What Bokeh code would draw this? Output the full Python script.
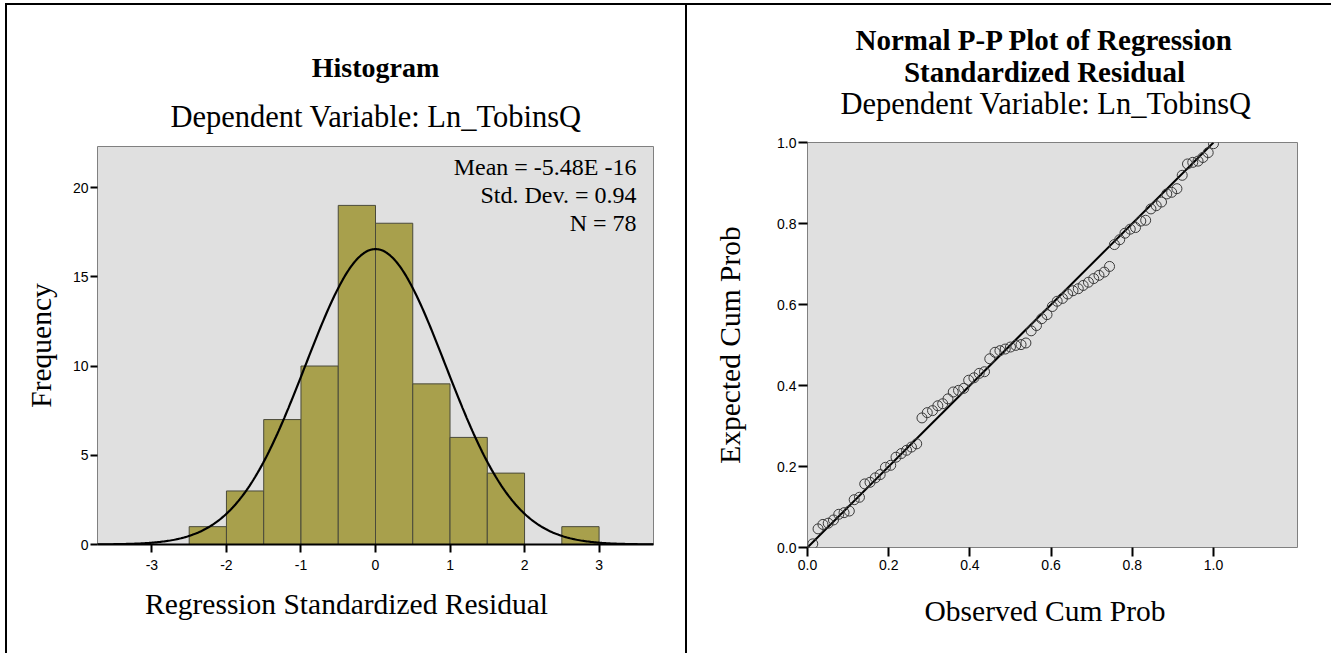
import numpy as np
from bokeh.plotting import figure
from bokeh.models import Range1d, FixedTicker, Label, PrintfTickFormatter, Spacer
from bokeh.layouts import row, column
from bokeh.core.properties import value
from bokeh.embed import file_html
from bokeh.resources import INLINE

# ---------------- data: histogram ----------------
bin_lefts = [-2.5, -2.0, -1.5, -1.0, -0.5, 0.0, 0.5, 1.0, 1.5, 2.0, 2.5]
bin_width = 0.5
frequencies = [1, 3, 7, 10, 19, 18, 9, 6, 4, 0, 1]
hist_xticks = [-3, -2, -1, 0, 1, 2, 3]
hist_yticks = [0, 5, 10, 15, 20]
stat_mean = -5.48e-16
stat_sd = 0.94
stat_n = 78
stat_lines = ["Mean = -5.48E -16", "Std. Dev. = 0.94", "N = 78"]

# ---------------- data: P-P plot ----------------
observed_cum_prob = [
    0.013, 0.026, 0.038, 0.051, 0.064, 0.077, 0.090, 0.103, 0.115, 0.128,
    0.141, 0.154, 0.167, 0.179, 0.192, 0.205, 0.218, 0.231, 0.244, 0.256,
    0.269, 0.282, 0.295, 0.308, 0.321, 0.333, 0.346, 0.359, 0.372, 0.385,
    0.397, 0.410, 0.423, 0.436, 0.449, 0.462, 0.474, 0.487, 0.500, 0.513,
    0.526, 0.538, 0.551, 0.564, 0.577, 0.590, 0.603, 0.615, 0.628, 0.641,
    0.654, 0.667, 0.679, 0.692, 0.705, 0.718, 0.731, 0.744, 0.756, 0.769,
    0.782, 0.795, 0.808, 0.821, 0.833, 0.846, 0.859, 0.872, 0.885, 0.897,
    0.910, 0.923, 0.936, 0.949, 0.962, 0.974, 0.987, 1.000]
expected_cum_prob = [
    0.009, 0.046, 0.057, 0.060, 0.068, 0.082, 0.086, 0.090, 0.118, 0.124,
    0.157, 0.161, 0.172, 0.180, 0.198, 0.203, 0.223, 0.232, 0.240, 0.248,
    0.256, 0.320, 0.333, 0.338, 0.350, 0.355, 0.367, 0.384, 0.388, 0.393,
    0.413, 0.419, 0.430, 0.434, 0.466, 0.482, 0.486, 0.490, 0.495, 0.499,
    0.501, 0.505, 0.535, 0.548, 0.565, 0.575, 0.595, 0.608, 0.615, 0.626,
    0.634, 0.639, 0.647, 0.655, 0.664, 0.672, 0.680, 0.694, 0.748, 0.760,
    0.776, 0.786, 0.790, 0.806, 0.808, 0.836, 0.844, 0.853, 0.873, 0.877,
    0.886, 0.919, 0.947, 0.951, 0.954, 0.963, 0.975, 0.997]
ref_line = [0.0, 1.0]
pp_ticks = [0.0, 0.2, 0.4, 0.6, 0.8, 1.0]

# ---------------- styling ----------------
SERIF = "Liberation Serif"
SANS = "Liberation Sans"
PANEL_BG = "#e0e0e0"
FRAME = "#808080"
BAR = "#a8a04c"


def style_axes(p, xticks, yticks, xtick_out, ytick_out, xstand, ystand):
    p.xgrid.visible = False
    p.ygrid.visible = False
    p.xaxis.ticker = FixedTicker(ticks=xticks)
    p.yaxis.ticker = FixedTicker(ticks=yticks)
    for ax, out, st in ((p.xaxis, xtick_out, xstand), (p.yaxis, ytick_out, ystand)):
        ax.minor_tick_line_color = None
        ax.major_tick_in = 0
        ax.major_tick_out = out
        ax.major_tick_line_color = "black"
        ax.major_tick_line_width = 2
        ax.major_label_text_font = SANS
        ax.major_label_text_font_size = "14px"
        ax.major_label_text_color = "black"
        ax.major_label_standoff = st
    p.yaxis.axis_line_color = None
    p.yaxis.axis_label_text_font = SERIF
    p.yaxis.axis_label_text_font_size = "29.5px"
    p.yaxis.axis_label_text_font_style = "normal"
    p.yaxis.axis_label_text_color = "black"


def text_fig(w, h, left, right, items):
    """Text strip whose frame is aligned with the plot frame [left, w-right];
    x data == canvas pixel, y data == pixel from the top."""
    f = figure(width=w, height=h, x_range=Range1d(left, w - right), y_range=Range1d(h, 0),
               x_axis_type=None, y_axis_type=None, min_border=0,
               min_border_left=left, min_border_right=right,
               output_backend="svg", toolbar_location=None)
    f.outline_line_color = None
    f.background_fill_color = "white"
    f.border_fill_color = "white"
    for t, cx, cy, size, style in items:
        f.text(x=[cx], y=[cy], text=[t], text_font=value(SERIF), text_font_size=size,
               text_font_style=style, text_align="center", text_baseline="middle",
               text_color="black")
    return f


def black_bar(w, h):
    return Spacer(width=w, height=h, styles={"background-color": "black"})


# ================= Histogram panel =================
W1 = 678
H1 = 439
L1, R1, T1, B1 = 90, 32, 10, 31
t1 = text_fig(W1, 131, L1, R1, [
    ("Histogram", 368, 62, "28px", "bold"),
    ("Dependent Variable: Ln_TobinsQ", 368.5, 111, "30.5px", "normal"),
])

x1r = (-3.73, 3.73)
y1r = (0.0, 22.3)
p1 = figure(width=W1, height=H1, x_range=Range1d(*x1r), y_range=Range1d(*y1r),
            output_backend="svg", toolbar_location=None,
            min_border_left=L1, min_border_right=R1, min_border_top=T1, min_border_bottom=B1)
p1.background_fill_color = PANEL_BG
p1.border_fill_color = "white"
p1.outline_line_color = FRAME
p1.outline_line_width = 1
style_axes(p1, hist_xticks, hist_yticks, 8, 7, 7, 2)
p1.xaxis.axis_line_color = "black"
p1.xaxis.axis_line_width = 2
p1.xaxis.major_label_overrides = {t: str(t) for t in hist_xticks}
p1.yaxis.axis_label = "Frequency"
p1.yaxis.axis_label_standoff = 13


def c1(cx, cy):
    fw, fh = W1 - L1 - R1, H1 - T1 - B1
    x = x1r[0] + (cx - L1) * (x1r[1] - x1r[0]) / fw
    y = y1r[0] + (T1 + fh - cy) * (y1r[1] - y1r[0]) / fh
    return x, y


lefts = np.array(bin_lefts)
p1.quad(left=lefts, right=lefts + bin_width, bottom=0, top=frequencies,
        fill_color=BAR, line_color="#4a4a3a", line_width=1)

xs = np.linspace(x1r[0], x1r[1], 400)
curve = stat_n * bin_width * np.exp(-0.5 * ((xs - stat_mean) / stat_sd) ** 2) / (stat_sd * np.sqrt(2 * np.pi))
p1.line(xs, curve, line_color="black", line_width=2.2)

for i, t in enumerate(stat_lines):
    x, y = c1(629, 30 + 28 * i)
    p1.add_layout(Label(x=x, y=y, text=t, text_font=SERIF, text_font_size="24px",
                        text_align="right", text_baseline="middle", text_color="black"))

xl1 = text_fig(W1, 78, L1, R1, [("Regression Standardized Residual", 339, 28, "29.5px", "normal")])

# ================= P-P panel =================
W2 = 644
H2 = 443
L2, R2, T2, B2 = 120, 34, 10, 28
t2 = text_fig(W2, 127, L2, R2, [
    ("Normal P-P Plot of Regression", 357, 34, "29px", "bold"),
    ("Standardized Residual", 357, 66, "29px", "bold"),
    ("Dependent Variable: Ln_TobinsQ", 358.5, 98, "30.5px", "normal"),
])

x2r = (0.0, 1.207)
y2r = (0.0, 1.0)
p2 = figure(width=W2, height=H2, x_range=Range1d(*x2r), y_range=Range1d(*y2r),
            output_backend="svg", toolbar_location=None,
            min_border_left=L2, min_border_right=R2, min_border_top=T2, min_border_bottom=B2)
p2.background_fill_color = PANEL_BG
p2.border_fill_color = "white"
p2.outline_line_color = FRAME
p2.outline_line_width = 1
style_axes(p2, pp_ticks, pp_ticks, 9, 9, 3, 2)
p2.xaxis.axis_line_color = None
p2.xaxis.formatter = PrintfTickFormatter(format="%.1f")
p2.yaxis.formatter = PrintfTickFormatter(format="%.1f")
p2.yaxis.axis_label = "Expected Cum Prob"
p2.yaxis.axis_label_standoff = 28

p2.line(ref_line, ref_line, line_color="black", line_width=2)
p2.scatter(observed_cum_prob, expected_cum_prob, marker="circle", size=10,
           fill_color=None, line_color="#3a3a3a", line_width=1)

xl2 = text_fig(W2, 78, L2, R2, [("Observed Cum Prob", 357.5, 35, "29.5px", "normal")])

# ================= page layout with table borders =================
col1 = column(t1, p1, xl1, spacing=0)
col2 = column(t2, p2, xl2, spacing=0)
inner = row(black_bar(2, 648), col1, black_bar(2, 648), col2, spacing=0)
layout = row(
    Spacer(width=5, height=653),
    column(Spacer(width=1326, height=3), black_bar(1326, 2), inner, spacing=0),
    spacing=0,
)
open("out.html", "w").write(file_html(layout, INLINE))
